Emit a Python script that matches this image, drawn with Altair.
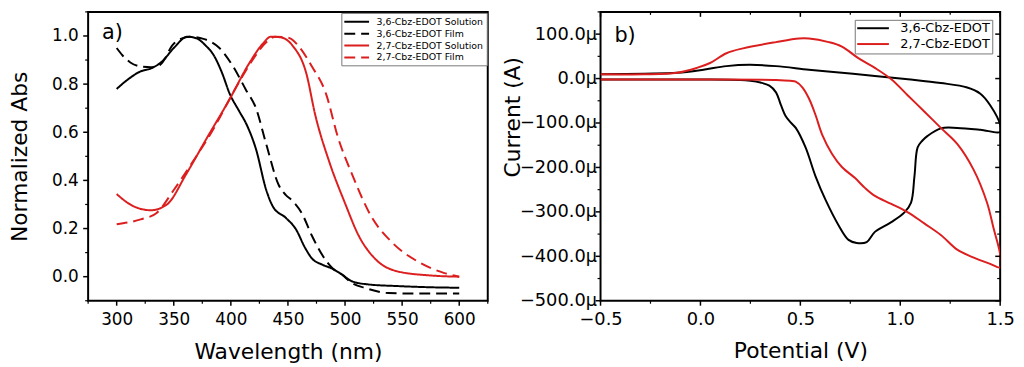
import altair as alt
import pandas as pd

# ---------------- Panel a: UV-vis absorption ----------------
names_a = ["3,6-Cbz-EDOT Solution", "3,6-Cbz-EDOT Film",
           "2,7-Cbz-EDOT Solution", "2,7-Cbz-EDOT Film"]
colors_a = ["#000000", "#000000", "#dc1e1e", "#dc1e1e"]
dashes_a = [[1, 0], [11, 6], [1, 0], [11, 6]]

wl_36_sol = [300, 310, 321, 330, 340, 350, 362, 370, 378, 385, 392, 399, 407, 414, 422,
             431, 437, 448, 457, 465, 471, 480, 488, 497, 506, 520, 546, 575, 600]
ab_36_sol = [0.78, 0.82, 0.853, 0.865, 0.895, 0.95, 0.997, 0.99, 0.96, 0.92, 0.85, 0.76,
             0.69, 0.63, 0.53, 0.36, 0.29, 0.245, 0.197, 0.12, 0.076, 0.05, 0.035, 0.01,
             -0.019, -0.032, -0.039, -0.044, -0.046]

wl_36_film = [300, 305, 312, 321, 330, 338, 350, 364, 376, 390, 402, 413, 422, 431,
              442, 448, 454, 462, 471, 482, 489, 497, 506, 517, 538, 560, 600]
ab_36_film = [0.95, 0.92, 0.89, 0.873, 0.87, 0.88, 0.968, 0.997, 0.988, 0.95, 0.873,
              0.778, 0.70, 0.55, 0.38, 0.34, 0.315, 0.265, 0.17, 0.076, 0.035, 0.01,
              -0.026, -0.046, -0.068, -0.07, -0.07]

wl_27_sol = [300, 315, 330, 344, 361, 379, 399, 416, 428, 435, 443, 454, 466, 474,
             486, 500, 512, 526, 546, 575, 600]
ab_27_sol = [0.343, 0.292, 0.276, 0.30, 0.427, 0.576, 0.738, 0.886, 0.968, 0.997,
             0.995, 0.96, 0.846, 0.67, 0.48, 0.305, 0.17, 0.076, 0.022, 0.005, 0.0]

wl_27_film = [300, 321, 335, 350, 367, 385, 402, 419, 431, 439, 451, 460, 471, 483,
              494, 506, 523, 541, 564, 587, 600]
ab_27_film = [0.218, 0.238, 0.265, 0.36, 0.48, 0.616, 0.765, 0.9, 0.974, 0.997, 0.992,
              0.954, 0.873, 0.765, 0.576, 0.427, 0.25, 0.143, 0.062, 0.015, 0.0]

a_xmajor = [300, 350, 400, 450, 500, 550, 600]
a_xminor = [275, 325, 375, 425, 475, 525, 575, 625]
a_ymajor = [0.0, 0.2, 0.4, 0.6, 0.8, 1.0]
a_yminor = [-0.1, 0.1, 0.3, 0.5, 0.7, 0.9, 1.1]

# ---------------- Panel b: cyclic voltammetry ----------------
names_b = ["3,6-Cbz-EDOT", "2,7-Cbz-EDOT"]
colors_b = ["#000000", "#dc1e1e"]

v_36 = [-0.5, -0.2, 0.0, 0.2, 0.25, 0.3, 0.345, 0.378, 0.403, 0.427, 0.45, 0.477, 0.526,
        0.576, 0.625, 0.691, 0.741, 0.782, 0.832, 0.873, 0.955, 1.021, 1.054, 1.071,
        1.087, 1.11, 1.137, 1.203, 1.285, 1.401, 1.5,
        1.5, 1.45, 1.401, 1.335, 1.203, 1.038, 0.873, 0.708, 0.543, 0.378, 0.246,
        0.13, 0.015, -0.117, -0.282, -0.5]
i_36 = [-2, -2, -2, -3, -5, -9, -16, -31, -60, -85, -98, -111, -155,
        -220, -272, -330, -363, -370, -368, -345, -323, -301, -279, -220,
        -155, -140, -129, -112, -111, -115, -120,
        -104, -60, -34, -20, -10, -1.5, 6, 13, 20, 28, 31,
        28, 20, 13, 11, 9.5]

v_27 = [-0.5, 0.0, 0.378, 0.45, 0.477, 0.51, 0.543, 0.576, 0.609, 0.658, 0.708, 0.774,
        0.823, 0.873, 0.955, 1.038, 1.12, 1.203, 1.285, 1.368, 1.45, 1.5,
        1.5, 1.467, 1.434, 1.368, 1.285, 1.203, 1.12, 1.038, 0.955, 0.873, 0.79,
        0.708, 0.642, 0.543, 0.493, 0.378, 0.213, 0.13, 0.048, -0.018, -0.117,
        -0.282, -0.5]
i_27 = [-2, -2, -3, -5, -7, -20, -45, -82, -126, -169, -199, -224,
        -246, -264, -282, -301, -326, -352, -385, -403, -417, -425,
        -396, -337, -279, -206, -147, -111, -74, -38, -1.5, 24, 46,
        72, 82, 90, 90, 82, 68, 57, 35, 24, 13,
        9.5, 9.5]

b_xmajor = [-0.5, 0.0, 0.5, 1.0, 1.5]
b_xminor = [-0.25, 0.25, 0.75, 1.25]
b_ymajor = [-500, -400, -300, -200, -100, 0, 100]
b_yminor = [-450, -350, -250, -150, -50, 50, 150]

# ---------------- build tables ----------------
def table(pairs):
    rows = []
    for name, xs, ys in pairs:
        for k, (xv, yv) in enumerate(zip(xs, ys)):
            rows.append({"series": name, "x": xv, "y": yv, "i": k})
    return pd.DataFrame(rows)

df_a = table([(names_a[0], wl_36_sol, ab_36_sol), (names_a[1], wl_36_film, ab_36_film),
              (names_a[2], wl_27_sol, ab_27_sol), (names_a[3], wl_27_film, ab_27_film)])
df_b = table([(names_b[0], v_36, i_36), (names_b[1], v_27, i_27)])

FONT = "DejaVu Sans"
W, H = 404, 292


def axis(values, fmt, title, orient, label_size, label_pad, title_x, title_y, label_expr=None):
    kw = dict(values=values, format=fmt, title=title, orient=orient, ticks=False,
              domain=False, grid=False, labelFont=FONT, labelFontSize=label_size,
              labelColor="black", labelPadding=label_pad, labelFlush=False,
              labelOverlap=False, titleFont=FONT, titleFontSize=22,
              titleFontWeight="normal", titleColor="black", titleX=title_x,
              titleY=title_y, titleBaseline="alphabetic")
    if orient == "left":
        kw["titleAngle"] = 270
    if label_expr:
        kw["labelExpr"] = label_expr
    return alt.Axis(**kw)


def tick_layers(xs, ys, axx, axy, xmaj, xmin, ymaj, ymin, mirror):
    out = []
    specs = [(xmaj, 5, 1.5), (xmin, 3, 1.2)]
    for vals, ln, sw in specs:
        d = pd.DataFrame({"x": vals})
        out.append(alt.Chart(d).mark_rule(color="black", strokeWidth=sw).encode(
            x=alt.X("x:Q", scale=xs, axis=axx), y=alt.value(H), y2=alt.value(H + ln)))
        if mirror:
            out.append(alt.Chart(d).mark_rule(color="black", strokeWidth=sw).encode(
                x=alt.X("x:Q", scale=xs, axis=axx), y=alt.value(0), y2=alt.value(ln)))
    for vals, ln, sw in [(ymaj, 5, 1.5), (ymin, 3, 1.2)]:
        d = pd.DataFrame({"y": vals})
        out.append(alt.Chart(d).mark_rule(color="black", strokeWidth=sw).encode(
            y=alt.Y("y:Q", scale=ys, axis=axy), x=alt.value(0), x2=alt.value(-ln)))
        if mirror:
            out.append(alt.Chart(d).mark_rule(color="black", strokeWidth=sw).encode(
                y=alt.Y("y:Q", scale=ys, axis=axy), x=alt.value(W), x2=alt.value(W - ln)))
    return out


# ---------------- panel a ----------------
xs_a = alt.Scale(domain=[275, 625], nice=False, zero=False)
ys_a = alt.Scale(domain=[-0.1, 1.1], nice=False, zero=False)
ax_xa = axis(a_xmajor, "d", "Wavelength (nm)", "bottom", 17, 11, W / 2, 58)
ax_ya = axis(a_ymajor, ".1f", "Normalized Abs", "left", 17, 10, -62, H / 2)

# line-shaped legend symbols: a 25 px stroke drawn from a small nominal symbol size
leg_a = alt.Legend(title=None, orient="top-right", offset=1, fillColor="white",
                   strokeColor="#777777", padding=3, labelFont=FONT, labelFontSize=9.5,
                   labelColor="black", symbolType="M-2.5,0L2.5,0", symbolSize=100,
                   symbolStrokeWidth=2, symbolOffset=6.5, rowPadding=1,
                   labelOffset=14, labelLimit=0)

lines_a = alt.Chart(df_a).mark_line(strokeWidth=2, interpolate="monotone", clip=True).encode(
    x=alt.X("x:Q", scale=xs_a, axis=ax_xa),
    y=alt.Y("y:Q", scale=ys_a, axis=ax_ya),
    color=alt.Color("series:N", scale=alt.Scale(domain=names_a, range=colors_a), legend=leg_a),
    strokeDash=alt.StrokeDash("series:N", scale=alt.Scale(domain=names_a, range=dashes_a), legend=leg_a),
    order="i:Q",
)
lab_a = alt.Chart(pd.DataFrame({"t": ["a)"]})).mark_text(
    font=FONT, fontSize=21, align="left", baseline="alphabetic", color="black"
).encode(text="t:N", x=alt.value(14), y=alt.value(27))

panel_a = alt.layer(lines_a, *tick_layers(xs_a, ys_a, ax_xa, ax_ya, a_xmajor, a_xminor,
                                          a_ymajor, a_yminor, False), lab_a
                    ).properties(width=W, height=H)

# ---------------- panel b ----------------
xs_b = alt.Scale(domain=[-0.5, 1.5], nice=False, zero=False)
ys_b = alt.Scale(domain=[-500, 150], nice=False, zero=False)
ax_xb = axis(b_xmajor, ".1f", "Potential (V)", "bottom", 18, 10, W / 2, 57)
ax_yb = axis(b_ymajor, ".1f", "Current (A)", "left", 18, 4, -82, 106,
             label_expr="format(datum.value, '.1f') + 'µ'")

leg_b = alt.Legend(title=None, orient="top-right", offset=8, fillColor="white",
                   strokeColor="#777777", padding=2, labelFont=FONT, labelFontSize=13,
                   labelColor="black", symbolType="M-3.2,0L3.2,0", symbolSize=100,
                   symbolStrokeWidth=2, symbolOffset=10, rowPadding=2,
                   labelOffset=21, labelLimit=0)

lines_b = alt.Chart(df_b).mark_line(strokeWidth=2, interpolate="catmull-rom", clip=True).encode(
    x=alt.X("x:Q", scale=xs_b, axis=ax_xb),
    y=alt.Y("y:Q", scale=ys_b, axis=ax_yb),
    color=alt.Color("series:N", scale=alt.Scale(domain=names_b, range=colors_b), legend=leg_b),
    order="i:Q",
)
lab_b = alt.Chart(pd.DataFrame({"t": ["b)"]})).mark_text(
    font=FONT, fontSize=21, align="left", baseline="alphabetic", color="black"
).encode(text="t:N", x=alt.value(14), y=alt.value(30))

panel_b = alt.layer(lines_b, *tick_layers(xs_b, ys_b, ax_xb, ax_yb, b_xmajor, b_xminor,
                                          b_ymajor, b_yminor, True), lab_b
                    ).properties(width=W, height=H)

chart = alt.hconcat(panel_a, panel_b, spacing=11).resolve_scale(
    color="independent", strokeDash="independent"
).resolve_legend(color="independent", strokeDash="independent").properties(
    padding=0, background="white"
).configure_view(stroke="black", strokeWidth=2)

chart.save("out.html", embed_options={"renderer": "svg", "actions": False})
